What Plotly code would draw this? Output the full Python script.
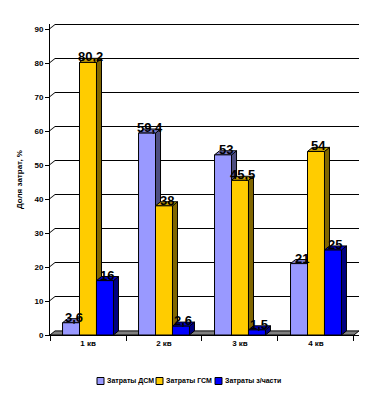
import plotly.graph_objects as go

categories = ["1 кв", "2 кв", "3 кв", "4 кв"]
series_names = ["Затраты ДСМ", "Затраты ГСМ", "Затраты з/части"]
dsm = [3.6, 59.4, 53, 21]
gsm = [80.2, 38, 45.5, 54]
parts = [16, 2.6, 1.5, 25]
y_ticks = list(range(0, 91, 10))

front_colors = ["#9999FF", "#FFCC00", "#0000FF"]
top_colors = ["#7A7ACC", "#CCA300", "#0000CC"]
side_colors = ["#4D4D80", "#806600", "#000080"]

series = [dsm, gsm, parts]
bargap = 0.33
w = (1 - bargap) / 3
dx = 0.066   # depth in x units
dy = 1.2     # depth in y units
ymax = 91.5
gh = 0.3     # gridline thickness in y units (~1px)

OFF = 8  # page body margin in the browser
W, H = 375 - OFF, 395 - OFF
ML, MR, MT, MB = 50 - OFF, 16, 24 - OFF, 60
PW, PH = W - ML - MR, H - MT - MB

fig = go.Figure()
for k, (name, vals) in enumerate(zip(series_names, series)):
    fig.add_trace(go.Bar(
        x=categories, y=vals, name=name, showlegend=False,
        marker=dict(color=front_colors[k], line=dict(color="black", width=1)),
        hoverinfo="skip",
    ))

shapes = []
# back wall gridlines (3D offset), drawn as thin filled polygons
for t in y_ticks[1:]:
    x0, x1, x2 = -0.5, -0.5 + dx, 3.5 + dx
    shapes.append(dict(type="path", xref="x", yref="y", layer="below",
                       path=(f"M {x0} {t:.2f} L {x1:.4f} {t+dy:.2f} L {x2:.4f} {t+dy:.2f} "
                             f"L {x2:.4f} {t+dy+gh:.2f} L {x1:.4f} {t+dy+gh:.2f} L {x0} {t+gh:.2f} Z"),
                       fillcolor="black", line=dict(width=0)))
# floor
shapes.append(dict(type="path", xref="x", yref="y", layer="below",
                   path=f"M -0.5 0 L 3.5 0 L {3.5+dx:.4f} {dy} L {-0.5+dx:.4f} {dy} Z",
                   fillcolor="#808080", line=dict(color="black", width=1)))
# bar depth faces
annotations = []
for k, vals in enumerate(series):
    for i, v in enumerate(vals):
        xl = i + (k - 1) * w - w / 2
        xr = xl + w
        shapes.append(dict(type="path", xref="x", yref="y", layer="below",
                           path=f"M {xr:.4f} 0 L {xr+dx:.4f} {dy} L {xr+dx:.4f} {v+dy:.2f} L {xr:.4f} {v} Z",
                           fillcolor=side_colors[k], line=dict(color="black", width=1)))
        shapes.append(dict(type="path", xref="x", yref="y", layer="below",
                           path=f"M {xl:.4f} {v} L {xl+dx:.4f} {v+dy:.2f} L {xr+dx:.4f} {v+dy:.2f} L {xr:.4f} {v} Z",
                           fillcolor=top_colors[k], line=dict(color="black", width=1)))
        annotations.append(dict(x=i + (k - 1) * w + dx / 2, y=v, xref="x", yref="y",
                                text=f"{v:g}".replace(".", ","), showarrow=False,
                                yanchor="bottom", yshift=-4,
                                font=dict(family="Liberation Sans", size=13, color="black", weight="bold")))

# legend (compact, below the plot); positions in page pixels
leg_x0_px, leg_step_px, leg_y_px, sq = 97, 59, 381, 7
for k, name in enumerate(series_names):
    px = leg_x0_px - OFF + k * leg_step_px
    x0p = (px - ML) / PW
    x1p = (px + sq - ML) / PW
    ycp = (H - MB - (leg_y_px - OFF)) / PH
    hs = (sq / 2) / PH
    shapes.append(dict(type="rect", xref="paper", yref="paper", x0=x0p, x1=x1p,
                       y0=ycp - hs, y1=ycp + hs, fillcolor=front_colors[k],
                       line=dict(color="black", width=1)))
    annotations.append(dict(x=x1p, y=ycp, xref="paper", yref="paper", text=name,
                            showarrow=False, xanchor="left", yanchor="middle", xshift=1,
                            font=dict(family="Liberation Sans", size=7, color="black", weight="bold")))

fig.update_layout(
    width=W, height=H,
    margin=dict(l=ML, r=MR, t=MT, b=MB),
    paper_bgcolor="white", plot_bgcolor="white",
    barmode="group", bargap=bargap, bargroupgap=0,
    shapes=shapes, annotations=annotations,
    font=dict(family="Liberation Sans", size=8, color="black"),
    showlegend=False,
    xaxis=dict(type="category", range=[-0.5, 3.5 + dx], ticks="outside", tickson="boundaries",
               ticklen=5, tickcolor="black",
               showline=True, linecolor="black", linewidth=1, showgrid=False, zeroline=False,
               tickfont=dict(size=8, weight="bold")),
    yaxis=dict(range=[0, ymax], tickvals=y_ticks, ticks="outside", ticklen=4, tickcolor="black",
               showline=True, linecolor="black", linewidth=1, showgrid=False, zeroline=False,
               tickfont=dict(size=8, weight="bold"),
               title=dict(text="Доля затрат, %", font=dict(size=8, weight="bold"), standoff=10)),
)

fig.write_html("out.html")
